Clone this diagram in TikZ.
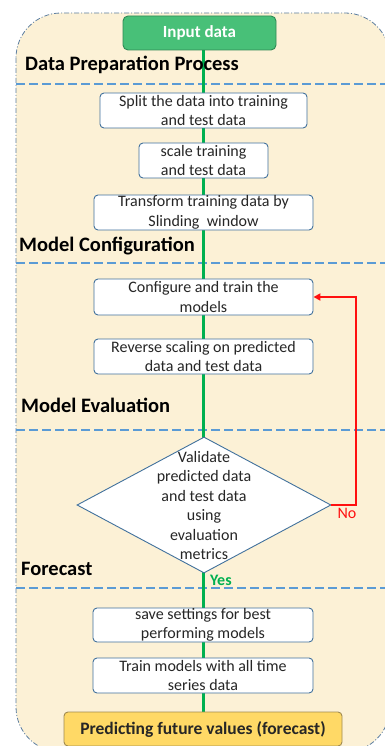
\documentclass[tikz,border=0pt]{standalone}
\usepackage{fontspec}
\setmainfont{Carlito}
\usetikzlibrary{shapes.geometric,arrows.meta}
\definecolor{cream}{HTML}{FCF1D6}
\definecolor{outerb}{HTML}{5B7DA0}
\definecolor{sepblue}{HTML}{5B9BD5}
\definecolor{boxb}{HTML}{41719C}
\definecolor{flowgreen}{HTML}{00B050}
\definecolor{inputg}{HTML}{48C078}
\definecolor{inputb}{HTML}{2F8A55}
\definecolor{predy}{HTML}{FFD966}
\definecolor{predb}{HTML}{A08A50}
\definecolor{txt}{HTML}{262626}
\definecolor{nored}{HTML}{FF1010}
\pgfdeclarelayer{bglayer}
\pgfdeclarelayer{flowlayer}
\pgfsetlayers{bglayer,flowlayer,main}
\tikzset{
  stepbox/.style={draw=boxb, line width=0.9pt, fill=white, rounded corners=4pt,
    align=center, inner sep=0pt, font=\fontsize{16}{19.5}\selectfont, text=txt},
  sectlabel/.style={anchor=west, font=\fontsize{20.5}{22}\selectfont\bfseries, inner sep=0pt},
  sepline/.style={draw=sepblue, line width=2.5pt, dash pattern=on 9pt off 4pt},
}
\begin{document}
\begin{tikzpicture}[x=1pt,y=1pt]
\useasboundingbox (0,0) rectangle (385,-746);
\clip (0,0) rectangle (385,-746);
% nodes
\node[draw=inputb, line width=0.9pt, fill=inputg, rounded corners=5pt, minimum width=153pt, minimum height=34pt,
  text=white, font=\fontsize{17}{19}\selectfont\bfseries, inner sep=0pt] (input) at (199.5,-33) {Input data};
\node[stepbox, minimum width=207pt, minimum height=35pt] (split) at (203.5,-110.5) {Split the data into training\\and test data};
\node[stepbox, minimum width=129pt, minimum height=35pt] (scale) at (203.5,-160.5) {scale training\\and test data};
\node[stepbox, minimum width=219pt, minimum height=35pt] (trans) at (203.5,-212.5) {Transform training data by\\Slinding\ \ window};
\node[stepbox, minimum width=219pt, minimum height=36pt] (conf) at (203.5,-297) {Configure and train the\\models};
\node[stepbox, minimum width=219pt, minimum height=35pt] (rev) at (203.5,-356.5) {Reverse scaling on predicted\\data and test data};
\node[diamond, draw=boxb, line width=0.9pt, fill=white, minimum width=254pt, minimum height=136pt, inner sep=0pt] (val) at (204,-505) {};
\node[align=center, font=\fontsize{16}{19.5}\selectfont, text=txt, inner sep=0pt] (valtext) at (204,-505.5)
  {Validate\\predicted data\\and test data\\using\\evaluation\\metrics};
\node[stepbox, minimum width=220pt, minimum height=34pt] (save) at (203,-625) {save settings for best\\performing models};
\node[stepbox, minimum width=220pt, minimum height=35pt] (train) at (203,-675.5) {Train models with all time\\series data};
\node[draw=predb, line width=0.9pt, fill=predy, rounded corners=4pt, minimum width=278pt, minimum height=34pt,
  font=\fontsize{17.5}{19}\selectfont\bfseries, text=txt, inner sep=0pt] (pred) at (203,-729) {Predicting future values (forecast)};
% section labels
\node[sectlabel] (l1) at (25,-65) {Data Preparation Process};
\node[sectlabel] (l2) at (19,-246) {Model Configuration};
\node[sectlabel] (l3) at (21,-405) {Model Evaluation};
\node[sectlabel] (l4) at (21,-569) {Forecast};
% background container and separators
\begin{pgfonlayer}{bglayer}
\draw[fill=cream, draw=outerb, line width=0.8pt, dash pattern=on 5pt off 2pt on 1pt off 2pt, rounded corners=45pt]
  (16,-13) rectangle (390,-752);
\draw[sepline] (16,-84) -- (385,-84);
\draw[sepline] (16,-263) -- (385,-263);
\draw[sepline] (16,-430) -- (385,-430);
\draw[sepline] (16,-588) -- (385,-588);
\end{pgfonlayer}
% green flow line
\begin{pgfonlayer}{flowlayer}
\draw[flowgreen, line width=3pt] (pred.north) -- (pred.north |- input.south);
\end{pgfonlayer}
% red feedback arrow
\draw[nored, line width=2pt, -{Triangle[length=7pt,width=7pt]}] (val.east) -- ++(25,0) |- (conf.east);
\node[anchor=north west, text=nored, font=\fontsize{16}{18}\selectfont, inner sep=0pt] (nolab) at ([xshift=6pt,yshift=-3pt]val.east) {No};
\node[anchor=north west, text=flowgreen, font=\fontsize{16}{18}\selectfont\bfseries, inner sep=0pt] (yeslab) at ([xshift=6pt,yshift=-1pt]val.south) {Yes};
\end{tikzpicture}
\end{document}
